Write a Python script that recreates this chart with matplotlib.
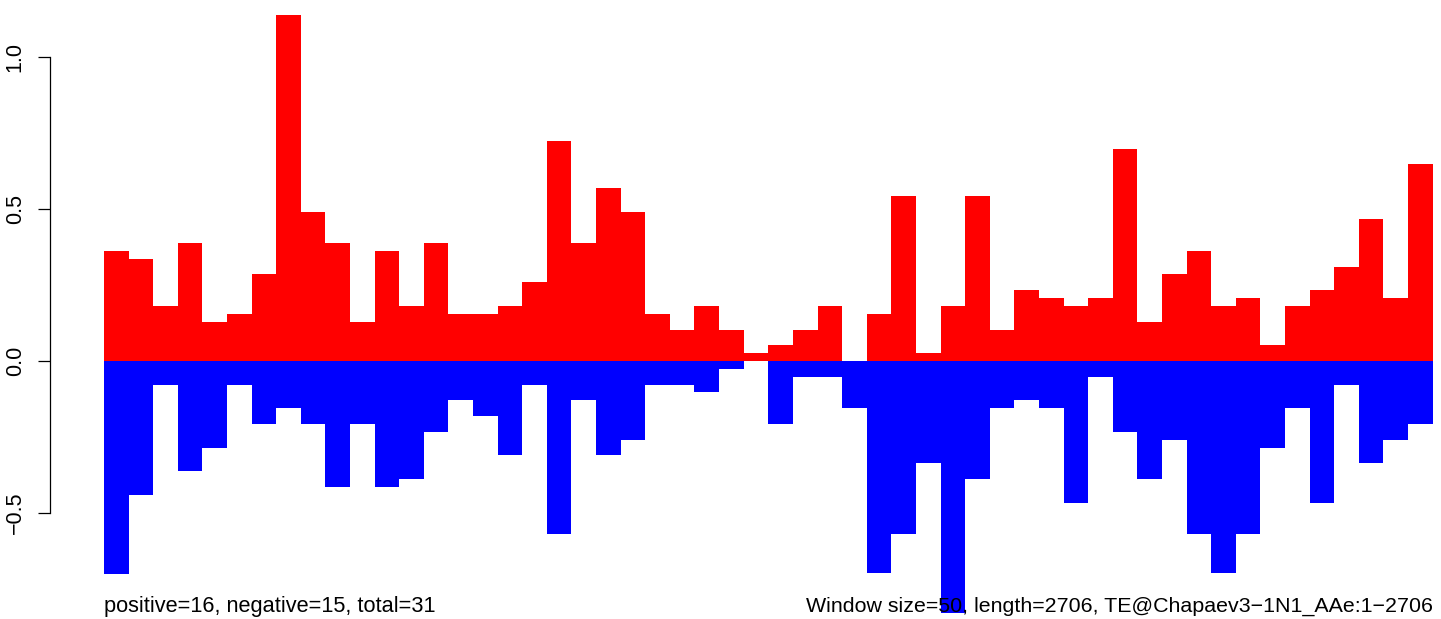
import matplotlib
matplotlib.use("Agg")
import matplotlib.pyplot as plt
import numpy as np

plt.rcParams['font.family'] = ['Liberation Sans', 'DejaVu Sans']

# window values (one per 50-bp window)
positive = [0.362, 0.336, 0.181, 0.388, 0.129, 0.155, 0.285, 1.138, 0.491, 0.388,
            0.129, 0.362, 0.181, 0.388, 0.155, 0.155, 0.181, 0.259, 0.724, 0.388,
            0.569, 0.491, 0.155, 0.103, 0.181, 0.103, 0.026, 0.052, 0.103, 0.181,
            0.0, 0.155, 0.543, 0.026, 0.181, 0.543, 0.103, 0.233, 0.207, 0.181,
            0.207, 0.698, 0.129, 0.285, 0.362, 0.181, 0.207, 0.052, 0.181, 0.233,
            0.310, 0.466, 0.207, 0.647]
negative = [-0.700, -0.440, -0.078, -0.362, -0.285, -0.078, -0.207, -0.155, -0.207, -0.414,
            -0.207, -0.414, -0.388, -0.233, -0.129, -0.181, -0.310, -0.078, -0.569, -0.129,
            -0.310, -0.259, -0.078, -0.078, -0.103, -0.026, 0.0, -0.207, -0.052, -0.052,
            -0.155, -0.698, -0.569, -0.336, -0.828, -0.388, -0.155, -0.129, -0.155, -0.466,
            -0.052, -0.233, -0.388, -0.259, -0.569, -0.698, -0.569, -0.285, -0.155, -0.466,
            -0.078, -0.336, -0.259, -0.207]
yticks = [-0.5, 0.0, 0.5, 1.0]
ytick_labels = ["\u22120.5", "0.0", "0.5", "1.0"]
left_text = "positive=16, negative=15, total=31"
right_text = "Window size=50, length=2706, TE@Chapaev3\u22121N1_AAe:1\u22122706"

W, H = 1441, 619
fig = plt.figure(figsize=(W / 100, H / 100), dpi=100)
x0, x1 = 104, 1432.6
ax = fig.add_axes([x0 / W, 0, (x1 - x0) / W, 1])
n = len(positive)
idx = np.arange(n)
ax.bar(idx, positive, width=1.0, align='edge', color='#ff0000', linewidth=0)
ax.bar(idx, negative, width=1.0, align='edge', color='#0000ff', linewidth=0)
ax.set_xlim(0, n)
ax.set_ylim(-(H - 361) / 304, 361 / 304)

for s in ['top', 'right', 'bottom']:
    ax.spines[s].set_visible(False)
ax.spines['left'].set_position(('outward', 54 * 0.72))
ax.spines['left'].set_bounds(-0.5, 1.0)
ax.spines['left'].set_linewidth(0.9)
ax.set_xticks([])
ax.set_yticks(yticks)
ax.set_yticklabels(ytick_labels, rotation=90, va='center', ha='center')
ax.tick_params(axis='y', length=9, width=0.9, pad=16, labelsize=15.5)

fig.text(x0 / W, (H - 612) / H, left_text, ha='left', va='baseline', fontsize=15.7)
fig.text(x1 / W, (H - 612) / H, right_text, ha='right', va='baseline', fontsize=15.4,
         zorder=5)

fig.savefig("out.png", dpi=100)
